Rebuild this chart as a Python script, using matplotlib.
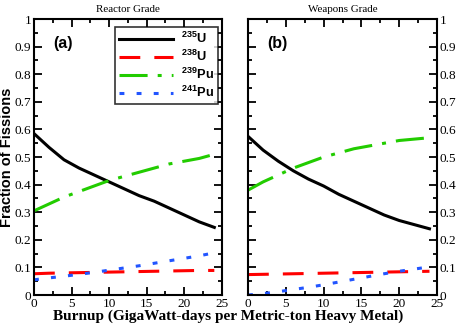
import numpy as np
import matplotlib
matplotlib.use('Agg')
import matplotlib.pyplot as plt
from matplotlib.ticker import MultipleLocator

# burnup points (GWd/MTHM)
burnup = [0, 2, 4, 6, 8, 10, 12, 14, 16, 18, 20, 22, 24]

# (a) reactor grade
ra_u235 = [0.585, 0.535, 0.49, 0.46, 0.435, 0.41, 0.385, 0.36, 0.34, 0.315, 0.29, 0.265, 0.245]
ra_u238 = [0.077, 0.079, 0.080, 0.081, 0.082, 0.083, 0.084, 0.085, 0.086, 0.087, 0.088, 0.089, 0.089]
ra_pu239 = [0.305, 0.33, 0.355, 0.375, 0.395, 0.415, 0.43, 0.445, 0.46, 0.475, 0.485, 0.495, 0.51]
ra_pu241 = [0.055, 0.062, 0.068, 0.075, 0.082, 0.09, 0.098, 0.106, 0.115, 0.124, 0.133, 0.142, 0.153]

# (b) weapons grade
wg_u235 = [0.575, 0.525, 0.485, 0.45, 0.42, 0.395, 0.365, 0.34, 0.315, 0.29, 0.27, 0.255, 0.24]
wg_u238 = [0.074, 0.075, 0.076, 0.077, 0.078, 0.079, 0.080, 0.081, 0.082, 0.083, 0.084, 0.085, 0.086]
wg_pu239 = [0.38, 0.41, 0.435, 0.46, 0.48, 0.5, 0.515, 0.53, 0.54, 0.55, 0.56, 0.565, 0.57]
wg_pu241 = [0.0, 0.005, 0.012, 0.02, 0.028, 0.037, 0.047, 0.057, 0.067, 0.077, 0.086, 0.094, 0.102]

labels = ['$^{235}$U', '$^{238}$U', '$^{239}$Pu', '$^{241}$Pu']
yticklabels = ['0', '0.1', '0.2', '0.3', '0.4', '0.5', '0.6', '0.7', '0.8', '0.9', '1']

serif = 'Liberation Serif'
sans = 'Liberation Sans'
plt.rcParams['font.family'] = serif
plt.rcParams['mathtext.fontset'] = 'custom'
plt.rcParams['mathtext.rm'] = 'Liberation Sans:bold'

fig = plt.figure(figsize=(4.57, 3.25), dpi=100)
ax1 = fig.add_axes([0.0744, 0.0923, 0.411, 0.849])
ax2 = fig.add_axes([0.5427, 0.0923, 0.4136, 0.849])


def draw(ax, u235, u238, pu239, pu241):
    ax.plot(burnup, u235, color='black', lw=2.2, ls='-', label=labels[0])
    ax.plot(burnup, u238, color='#ff0000', lw=2.2, ls=(0, (6.8, 4.6)), label=labels[1])
    ax.plot(burnup, pu239, color='#22cc00', lw=2.2, ls=(0, (9.2, 3.3, 1.3, 3.3)), label=labels[2])
    ax.plot(burnup, pu241, color='#2255ff', lw=2.2, ls=(0, (1.6, 4.0)), label=labels[3])
    ax.set_xlim(0, 25)
    ax.set_ylim(0, 1)
    ax.xaxis.set_major_locator(MultipleLocator(5))
    ax.xaxis.set_minor_locator(MultipleLocator(2.5))
    ax.yaxis.set_minor_locator(MultipleLocator(0.05))
    ax.set_yticks(np.arange(0, 1.01, 0.1))
    ax.set_yticklabels(yticklabels)
    ax.tick_params(which='both', direction='in', top=True, right=True, width=1.3)
    ax.tick_params(which='major', length=5.5, labelsize=9.5, pad=2)
    ax.tick_params(which='minor', length=3)
    for s in ax.spines.values():
        s.set_linewidth(1.5)


draw(ax1, ra_u235, ra_u238, ra_pu239, ra_pu241)
draw(ax2, wg_u235, wg_u238, wg_pu239, wg_pu241)

ax2.tick_params(labelleft=False, labelright=True)

ax1.set_title('Reactor Grade', fontsize=7.9, pad=5)
ax2.set_title('Weapons Grade', fontsize=7.9, pad=5)

ax1.text(2.5, 0.913, '(a)', fontfamily=sans, fontweight='bold', fontsize=11.5, va='center')
ax2.text(2.5, 0.913, '(b)', fontfamily=sans, fontweight='bold', fontsize=11.5, va='center')

ax1.set_ylabel('Fraction of Fissions', fontfamily=sans, fontweight='bold', fontsize=10.5)
ax1.yaxis.set_label_coords(-0.105, 0.5)

leg = ax1.legend(loc='upper right', bbox_to_anchor=(0.979, 0.971), borderaxespad=0,
                 prop={'family': sans, 'weight': 'bold', 'size': 9.3},
                 frameon=True, fancybox=False, edgecolor='black', handlelength=4.2,
                 borderpad=0.3, labelspacing=0.22, handletextpad=0.6)
leg.get_frame().set_linewidth(1.2)

fig.text(0.5, 0.007, 'Burnup (GigaWatt-days per Metric-ton Heavy Metal)',
         fontweight='bold', fontsize=11, ha='center', va='bottom')

fig.savefig('out.png', dpi=100)
